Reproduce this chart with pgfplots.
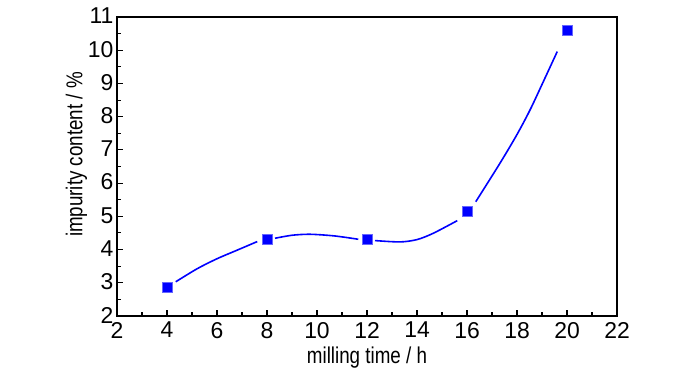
\documentclass[border=0pt]{standalone}
\usepackage{pgfplots}
\pgfplotsset{compat=1.18}
\usepackage{fontspec}
\setmainfont{Liberation Sans}
\newfontfamily\narrowfont{Liberation Sans}[FakeStretch=0.82]
\definecolor{pblue}{RGB}{0,0,255}
\begin{document}
\begin{tikzpicture}
\path[use as bounding box] (0,0) rectangle (700bp,374bp);
\begin{axis}[
  at={(117bp,58bp)}, anchor=south west,
  scale only axis, width=500bp, height=299bp,
  xmin=2, xmax=22, ymin=2, ymax=11,
  xtick={2,4,...,22}, ytick={2,3,...,11},
  minor x tick num=1, minor y tick num=1,
  tick align=inside,
  xtick pos=bottom, ytick pos=left,
  major tick length=6bp, minor tick length=3.5bp,
  axis line style={line width=1.4bp},
  every tick/.style={black, line width=1.1bp},
  tick label style={font=\fontsize{23}{25}\selectfont},
  label style={font=\narrowfont\fontsize{23}{25}\selectfont},
  /pgf/number format/assume math mode=true,
  xlabel={milling time / h},
  ylabel={impurity content / \%},
  xlabel style={yshift=-2bp},
  ylabel style={yshift=-6bp, xshift=12bp},
  xticklabel style={yshift=-2.5bp},
  yticklabel style={xshift=0bp, yshift=1bp},
  clip=false,
]
\addplot[pblue, line width=1.6bp, smooth, tension=0.5] coordinates {
 (4.35,3.03) (5.2,3.42) (5.99,3.72) (6.8,3.98) (7.61,4.24)};
\addplot[pblue, line width=1.6bp, smooth, tension=0.5] coordinates {
 (8.32,4.34) (9.0,4.43) (9.72,4.46) (10.7,4.41) (11.65,4.31)};
\addplot[pblue, line width=1.6bp, smooth, tension=0.5] coordinates {
 (12.32,4.27) (13.32,4.23) (14.0,4.30) (14.65,4.49) (15.61,4.87)};
\addplot[pblue, line width=1.6bp, smooth, tension=0.5] coordinates {
 (16.35,5.44) (17.32,6.60) (17.99,7.45) (18.52,8.20) (19.05,9.05) (19.61,9.96)};
\addplot[only marks, mark=square*, mark size=5bp, mark options={fill=pblue, draw=pblue!60!white, line width=0.5bp}] coordinates {
 (4,2.87) (8,4.32) (12,4.30) (16,5.16) (20,10.61)};
\end{axis}
\end{tikzpicture}
\end{document}
